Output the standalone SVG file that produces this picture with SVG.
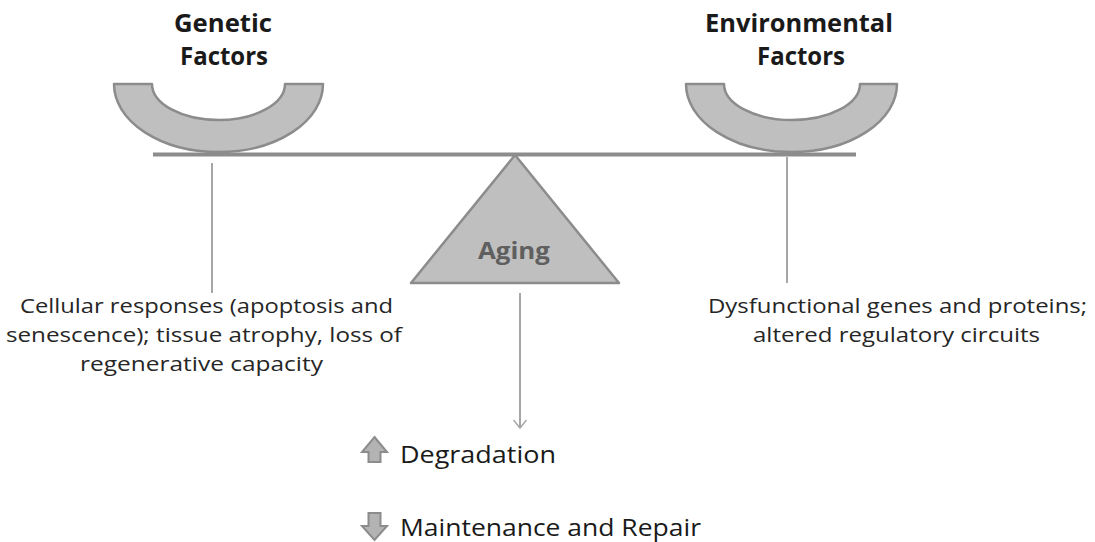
<svg xmlns="http://www.w3.org/2000/svg" width="1095" height="542" viewBox="0 0 1095 542">
  <defs>
    <style>
      .hdr { font-family: "Open Sans", "Liberation Sans", sans-serif; font-weight: bold; font-size: 25px; fill: #1a1a1a; text-anchor: middle; }
      .body { font-family: "Open Sans", "Liberation Sans", sans-serif; font-size: 20px; fill: #262626; text-anchor: middle; }
      .big { font-family: "Open Sans", "Liberation Sans", sans-serif; font-size: 23px; fill: #1a1a1a; }
      .shape { fill: #bfbfbf; stroke: #8c8c8c; stroke-width: 2.5; stroke-linejoin: round; }
      .thin { stroke: #a6a6a6; stroke-width: 2; fill: none; }
      .blk { fill: #b3b3b3; stroke: #8c8c8c; stroke-width: 2; stroke-linejoin: miter; }
    </style>
    <marker id="openArrow" markerWidth="12" markerHeight="14" refX="9" refY="7" orient="auto" markerUnits="userSpaceOnUse" viewBox="0 0 12 14">
      <path d="M1,0.5 L9,7 L1,13.5" fill="none" stroke="#a6a6a6" stroke-width="1.5"/>
    </marker>
  </defs>
  <rect width="1095" height="542" fill="#ffffff"/>

  <g id="beam">
    <rect x="153" y="152.5" width="703" height="4" fill="#8c8c8c"/>
  </g>

  <g id="genetic-factors">
    <path class="shape" d="M114,84 A104.5,68 0 0 0 323,84 L285,84 A66.5,36 0 0 1 152,84 Z"/>
    <text class="hdr" x="223" y="32" textLength="98" lengthAdjust="spacingAndGlyphs">Genetic</text>
    <text class="hdr" x="224" y="65" textLength="88" lengthAdjust="spacingAndGlyphs">Factors</text>
  </g>

  <g id="environmental-factors">
    <path class="shape" d="M686,84 A105.5,68 0 0 0 897,84 L860,84 A68,36 0 0 1 724,84 Z"/>
    <text class="hdr" x="799" y="32" textLength="188" lengthAdjust="spacingAndGlyphs">Environmental</text>
    <text class="hdr" x="801" y="65" textLength="88" lengthAdjust="spacingAndGlyphs">Factors</text>
  </g>

  <g id="aging">
    <path class="shape" stroke-width="3" d="M515,155 L411,283 L619,283 Z"/>
    <text x="514" y="259" font-family="Open Sans, Liberation Sans, sans-serif" font-weight="bold" font-size="23" fill="#5f5f5f" text-anchor="middle" textLength="72" lengthAdjust="spacingAndGlyphs">Aging</text>
  </g>

  <g id="connectors">
    <line class="thin" x1="212" y1="163" x2="212" y2="293"/>
    <line class="thin" x1="787" y1="157" x2="787" y2="283"/>
    <line class="thin" x1="520" y1="293" x2="520" y2="428" marker-end="url(#openArrow)"/>
  </g>

  <g id="genetic-effects">
    <text class="body" x="206.5" y="313" textLength="373" lengthAdjust="spacingAndGlyphs">Cellular responses (apoptosis and</text>
    <text class="body" x="204" y="342" textLength="396" lengthAdjust="spacingAndGlyphs">senescence); tissue atrophy, loss of</text>
    <text class="body" x="201.5" y="371" textLength="243" lengthAdjust="spacingAndGlyphs">regenerative capacity</text>
  </g>

  <g id="environmental-effects">
    <text class="body" x="897.5" y="313" textLength="379" lengthAdjust="spacingAndGlyphs">Dysfunctional genes and proteins;</text>
    <text class="body" x="896.5" y="342" textLength="287" lengthAdjust="spacingAndGlyphs">altered regulatory circuits</text>
  </g>

  <g id="degradation">
    <path class="blk" d="M374.5,437 L387,452 L380.5,452 L380.5,462 L368.5,462 L368.5,452 L362,452 Z"/>
    <text class="big" x="400" y="463" textLength="156" lengthAdjust="spacingAndGlyphs">Degradation</text>
  </g>

  <g id="maintenance">
    <path class="blk" d="M368.5,513 L380.5,513 L380.5,526 L387,526 L374.5,540 L362,526 L368.5,526 Z"/>
    <text class="big" x="400" y="536" textLength="301" lengthAdjust="spacingAndGlyphs">Maintenance and Repair</text>
  </g>
</svg>
